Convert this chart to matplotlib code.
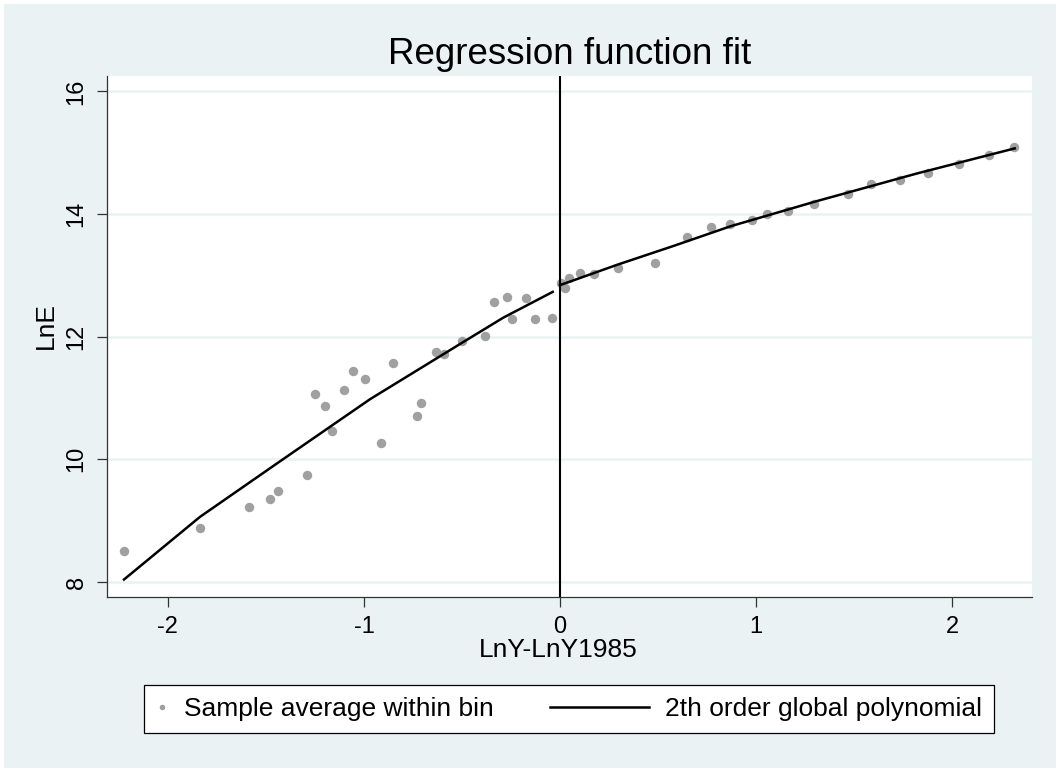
import matplotlib
matplotlib.use("Agg")
import matplotlib.pyplot as plt
from matplotlib.legend_handler import HandlerLine2D

plt.rcParams['font.family'] = ['Liberation Sans', 'DejaVu Sans']
plt.rcParams['axes.unicode_minus'] = False

# ─── DATA ─────────────────────────────────────────────────────────────────────
bin_x = [-2.224, -1.837, -1.588, -1.478, -1.440, -1.292, -1.248, -1.199, -1.163,
         -1.102, -1.058, -0.996, -0.912, -0.854, -0.728, -0.711, -0.633, -0.592,
         -0.498, -0.381, -0.338, -0.270, -0.246, -0.175, -0.128, -0.041,
         0.003, 0.027, 0.047, 0.102, 0.172, 0.294, 0.483, 0.649, 0.772, 0.867,
         0.981, 1.055, 1.165, 1.297, 1.468, 1.588, 1.733, 1.876, 2.036, 2.190, 2.318]
bin_y = [8.506, 8.888, 9.215, 9.355, 9.476, 9.737, 11.065, 10.873, 10.456,
         11.130, 11.440, 11.314, 10.264, 11.566, 10.705, 10.913, 11.750, 11.713,
         11.925, 12.016, 12.571, 12.648, 12.294, 12.637, 12.289, 12.305,
         12.882, 12.795, 12.963, 13.040, 13.024, 13.117, 13.208, 13.633, 13.796, 13.835,
         13.905, 13.998, 14.047, 14.167, 14.325, 14.488, 14.547, 14.668, 14.820, 14.967, 15.092]

# fitted curve, left and right of the cutoff
fit_left_x = [-2.224, -1.837, -1.445, -0.969, -0.51, -0.289, -0.037]
fit_left_y = [8.04, 9.06, 9.93, 10.98, 11.88, 12.31, 12.73]
fit_right_x = [0.0, 0.29, 0.58, 0.87, 1.31, 1.82, 2.32]
fit_right_y = [12.84, 13.17, 13.48, 13.80, 14.21, 14.66, 15.07]

x_ticks = [-2, -1, 0, 1, 2]
y_ticks = [8, 10, 12, 14, 16]

BG = '#eaf2f3'
DOT = '#a0a0a0'


# legend line handle that reaches further left than the handle box
class LongLine(HandlerLine2D):
    def create_artists(self, legend, orig_handle, xdescent, ydescent,
                       width, height, fontsize, trans):
        extra = 3.3 * fontsize
        return super().create_artists(legend, orig_handle, xdescent + extra, ydescent,
                                      width + extra, height, fontsize, trans)


# ─── FIGURE ───────────────────────────────────────────────────────────────────
fig = plt.figure(figsize=(10.59, 7.71), dpi=100, facecolor=BG)
fig.patch.set_edgecolor('white')
fig.patch.set_linewidth(5)

ax = fig.add_axes([0.1010, 0.2257, 0.8735, 0.6757])
ax.set_facecolor('white')

ax.yaxis.grid(True, color=BG, linewidth=1.8)
ax.set_axisbelow(True)

dots, = ax.plot(bin_x, bin_y, 'o', ls='none', color=DOT, ms=6.8, mec='none',
                label='Sample average within bin', zorder=2)
fit, = ax.plot(fit_left_x, fit_left_y, color='black', lw=1.8,
               label='2th order global polynomial', zorder=3)
ax.plot(fit_right_x, fit_right_y, color='black', lw=1.8, zorder=3)
ax.axvline(0, color='black', lw=1.5, zorder=4)

ax.set_xlim(-2.311, 2.408)
ax.set_ylim(7.755, 16.25)
ax.set_xticks(x_ticks)
ax.set_yticks(y_ticks)

for s in ['top', 'right']:
    ax.spines[s].set_visible(False)
for s in ['left', 'bottom']:
    ax.spines[s].set_color('#333333')
    ax.spines[s].set_linewidth(0.9)

ax.tick_params(direction='out', length=7, width=0.9, color='#333333',
               labelsize=17, pad=7)
ax.tick_params(axis='y', labelrotation=90)
plt.setp(ax.get_yticklabels(), va='center')

ax.set_title('Regression function fit', fontsize=26.5, pad=9)
ax.set_xlabel('LnY-LnY1985', fontsize=19)
ax.set_ylabel('LnE', fontsize=19)
ax.xaxis.set_label_coords(0.488, -0.079)
ax.yaxis.set_label_coords(-0.053, 0.522)

leg = fig.legend(handles=[dots, fit], loc='center',
                 bbox_to_anchor=(569 / 1059, 1 - 709 / 771), ncol=2,
                 fontsize=19, frameon=True, fancybox=False, framealpha=1,
                 edgecolor='black', facecolor='white',
                 handlelength=0.45, handletextpad=0.6, columnspacing=5.45,
                 borderpad=0.45, handler_map={fit: LongLine()})
leg.get_frame().set_linewidth(0.9)
leg.legend_handles[0].set_markersize(4)

plt.savefig('out.png', dpi=100, facecolor=fig.get_facecolor(),
            edgecolor=fig.patch.get_edgecolor())
